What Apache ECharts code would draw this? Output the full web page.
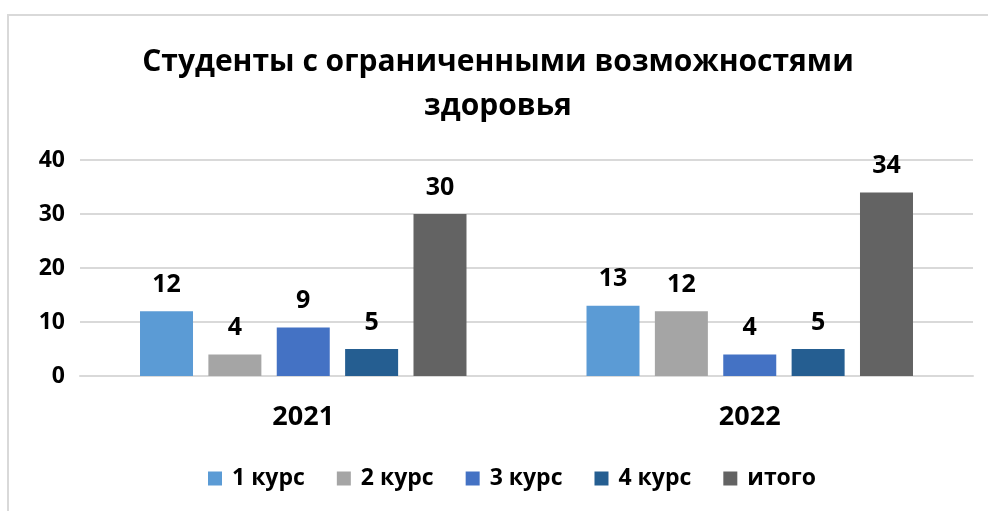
<!DOCTYPE html>
<html>
<head>
<meta charset="utf-8">
<script src="https://cdn.jsdelivr.net/npm/echarts@6/dist/echarts.min.js"></script>
<style>
  html, body { margin: 0; padding: 0; background: #fff; }
  #frame { position: absolute; left: 7px; top: 14px; width: 990px; height: 510px;
           border-left: 2px solid #d9d9d9; border-top: 2px solid #d9d9d9; }
  #main { position: absolute; left: 0; top: 0; width: 988px; height: 511px; }
</style>
</head>
<body>
<div id="frame"></div>
<div id="main"></div>
<script>
// данные
const years = ['2021', '2022'];
const kurs1 = [12, 13];
const kurs2 = [4, 12];
const kurs3 = [9, 4];
const kurs4 = [5, 5];
const itogo = [30, 34];
const seriesNames = ['1 курс', '2 курс', '3 курс', '4 курс', 'итого'];
const colors = ['#5B9BD5', '#A5A5A5', '#4472C4', '#255E91', '#636363'];

const font = "'Open Sans', 'Noto Sans', sans-serif";

const chart = echarts.init(document.getElementById('main'));

const series = [kurs1, kurs2, kurs3, kurs4, itogo].map((d, i) => ({
  name: seriesNames[i],
  type: 'bar',
  data: d,
  barWidth: 53,
  barGap: '29%',
  itemStyle: { color: colors[i] },
  label: {
    show: true,
    position: 'top',
    distance: 14,
    color: '#000',
    fontWeight: 'bold',
    fontSize: 25,
    fontFamily: font
  }
}));

chart.setOption({
  animation: false,
  color: colors,
  title: {
    text: 'Студенты с ограниченными возможностями\nздоровья',
    left: 493,
    top: 35,
    textAlign: 'center',
    textStyle: {
      fontFamily: font,
      fontWeight: 'bold',
      fontSize: 30,
      lineHeight: 44,
      color: '#000'
    }
  },
  legend: {
    bottom: 16,
    left: 203,
    itemWidth: 14,
    itemHeight: 14,
    itemGap: 32,
    icon: 'rect',
    textStyle: { fontFamily: font, fontWeight: 'bold', fontSize: 23, color: '#000', padding: [0, 0, 0, 5] },
    data: seriesNames
  },
  grid: { left: 80, right: 15, top: 160, bottom: 135 },
  xAxis: {
    type: 'category',
    data: years,
    axisTick: { show: false },
    axisLine: { lineStyle: { color: '#d9d9d9', width: 2 } },
    axisLabel: { fontFamily: font, fontWeight: 'bold', fontSize: 27, color: '#000', margin: 28 }
  },
  yAxis: {
    type: 'value',
    min: 0,
    max: 40,
    interval: 10,
    axisLine: { show: false },
    axisTick: { show: false },
    splitLine: { lineStyle: { color: '#d9d9d9', width: 2 } },
    axisLabel: { fontFamily: font, fontWeight: 'bold', fontSize: 23, color: '#000', margin: 15 }
  },
  series: series
});
</script>
</body>
</html>
